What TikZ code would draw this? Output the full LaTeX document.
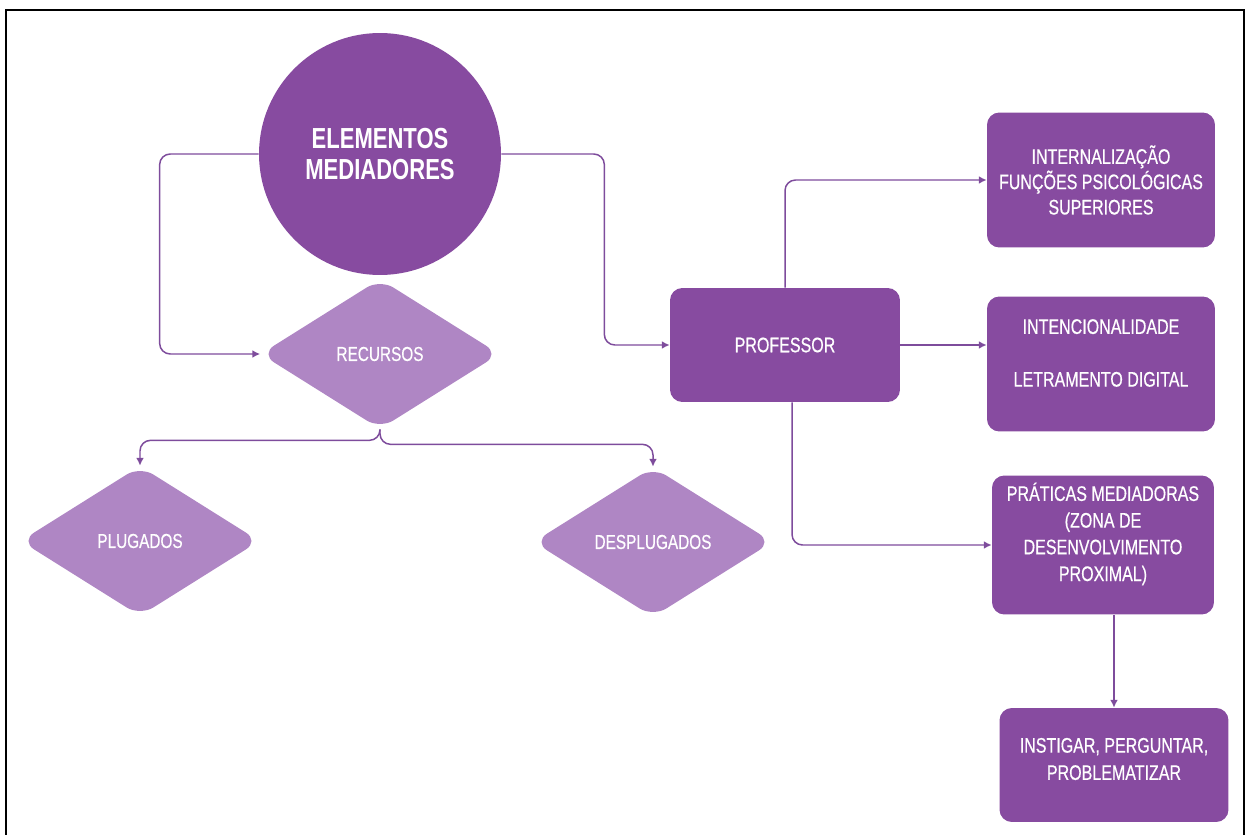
\documentclass[tikz,border=0pt]{standalone}
\usepackage{fontspec}
\setmainfont[FakeStretch=0.76,FakeBold=0.5]{Liberation Sans}
\newfontfamily\headfont[FakeStretch=0.76]{Liberation Sans}
\usetikzlibrary{shapes.geometric,arrows.meta,calc}
\definecolor{darkpurple}{HTML}{874BA0}
\definecolor{lightpurple}{HTML}{AF86C4}
\definecolor{linepurple}{HTML}{7E4C9C}
\begin{document}
\begin{tikzpicture}[x=0.02cm,y=-0.02cm,
  box/.style={draw=none,fill=darkpurple,rounded corners=7pt,text=white,align=center,
    font=\fontsize{12}{14.4}\selectfont,inner sep=2pt},
  label/.style={text=white,align=center},
  choice/.style={diamond,draw=none,fill=lightpurple,rounded corners=9pt,text=white,
    font=\fontsize{11.5}{13}\selectfont,inner sep=0pt,minimum width=4.78cm,minimum height=3.0cm},
  conn/.style={draw=linepurple,line width=0.85pt,rounded corners=6pt,
    -{Latex[length=4.5pt,width=4.5pt]}}]
\useasboundingbox (0,0) rectangle (1249,835);
% outer frame, open at the bottom
\draw[line width=1.6pt] (6,835) -- (6,10) -- (1244,10) -- (1244,835);

% central circle
\node[circle,fill=darkpurple,minimum size=4.84cm,inner sep=0pt,text=white,align=center,
  font=\headfont\bfseries\fontsize{16.5}{17.5}\selectfont] (em) at (380,154) {ELEMENTOS\\MEDIADORES};

% resources branch
\node[choice] (rec) at (380,354) {RECURSOS};
\node[choice] (plg) at (140,541) {PLUGADOS};
\node[choice] (dpl) at (653,542) {DESPLUGADOS};

% teacher branch
\node[box,minimum width=4.6cm,minimum height=2.28cm] (prof) at (785,345) {PROFESSOR};
\node[box,minimum width=4.56cm,minimum height=2.7cm] (int) at (1101,180)
  {INTERNALIZAÇÃO\\FUNÇÕES PSICOLÓGICAS\\SUPERIORES};
\node[box,minimum width=4.56cm,minimum height=2.7cm] (itc) at (1101,364) {};
\node[label,font=\fontsize{12}{30}\selectfont] (itct) at (1101,353)
  {INTENCIONALIDADE\\LETRAMENTO DIGITAL};
\node[box,minimum width=4.44cm,minimum height=2.78cm] (prt) at (1103,545) {};
\node[label,font=\fontsize{12}{15.2}\selectfont] (prtt) at (1103,534)
  {PRÁTICAS MEDIADORAS\\(ZONA DE\\DESENVOLVIMENTO\\PROXIMAL)};
\node[box,minimum width=4.58cm,minimum height=2.28cm] (ins) at (1114,765) {};
\node[label,font=\fontsize{12}{15.5}\selectfont] (inst) at (1114,759)
  {INSTIGAR, PERGUNTAR,\\PROBLEMATIZAR};

% connectors
\draw[conn] (em.west) -- ++(-99,0) |- (rec.west);
\draw[conn] (em.east) -- ++(103,0) |- (prof.west);
\draw[conn] (rec.south) -- ++(0,11) -| (plg.north);
\draw[conn] (rec.south) -- ++(0,15) -| (dpl.north);
\draw[conn] (prof.north) |- (int.west);
\draw[conn] (prof.east) -- (prof.east -| itc.west);
\draw[conn] ($(prof.south)+(7,0)$) |- (prt.west);
\draw[conn] (ins.north |- prt.south) -- (ins.north);
\end{tikzpicture}
\end{document}
